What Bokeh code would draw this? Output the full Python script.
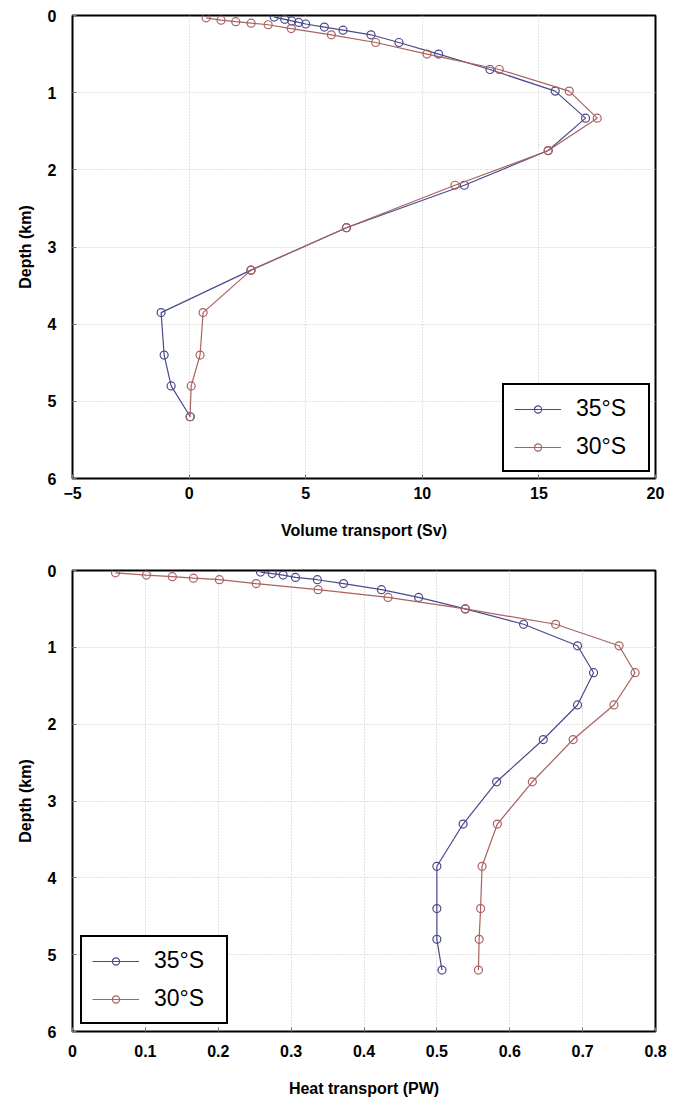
from bokeh.plotting import figure
from bokeh.models import Range1d, FixedTicker, Legend, LegendItem
from bokeh.layouts import column
from bokeh.embed import file_html
from bokeh.resources import INLINE

# ---- data ----
series_labels = ["35°S", "30°S"]

depth_35_vol = [0.02, 0.05, 0.07, 0.09, 0.11, 0.15, 0.19, 0.25, 0.35, 0.5, 0.7, 0.98,
                1.33, 1.75, 2.2, 2.75, 3.3, 3.85, 4.4, 4.8, 5.2]
vol_35 = [3.65, 4.1, 4.4, 4.7, 5.0, 5.8, 6.6, 7.8, 9.0, 10.7, 12.9, 15.7,
          17.0, 15.4, 11.8, 6.75, 2.65, -1.2, -1.07, -0.77, 0.05]

depth_30 = [0.03, 0.06, 0.08, 0.1, 0.12, 0.17, 0.25, 0.35, 0.5, 0.7, 0.98,
            1.33, 1.75, 2.2, 2.75, 3.3, 3.85, 4.4, 4.8, 5.2]
vol_30 = [0.73, 1.37, 2.0, 2.66, 3.39, 4.38, 6.1, 8.0, 10.2, 13.3, 16.3,
          17.5, 15.4, 11.4, 6.74, 2.66, 0.6, 0.47, 0.09, 0.04]

depth_35_heat = [0.02, 0.04, 0.06, 0.09, 0.12, 0.17, 0.25, 0.35, 0.5, 0.7, 0.98,
                 1.33, 1.75, 2.2, 2.75, 3.3, 3.85, 4.4, 4.8, 5.2]
heat_35 = [0.258, 0.274, 0.289, 0.306, 0.336, 0.372, 0.424, 0.475, 0.539, 0.619, 0.693,
           0.715, 0.693, 0.646, 0.582, 0.536, 0.5, 0.5, 0.5, 0.507]
heat_30 = [0.059, 0.1015, 0.137, 0.166, 0.2016, 0.252, 0.337, 0.433, 0.539, 0.663, 0.75,
           0.772, 0.743, 0.687, 0.631, 0.583, 0.562, 0.56, 0.558, 0.557]

vol_xticks = [-5, 0, 5, 10, 15, 20]
heat_xticks = [0, 0.1, 0.2, 0.3, 0.4, 0.5, 0.6, 0.7, 0.8]
depth_ticks = [0, 1, 2, 3, 4, 5, 6]

FONT = "Liberation Sans"
BLUE = "#4a4a8c"
RED = "#a8625f"


def make_fig(xr, xticks, xlabel, xs35, ys35, xs30, ys30, legend_loc,
             frame_h, top, bottom, tick_standoff, label_standoff):
    p = figure(frame_width=583, frame_height=frame_h,
               x_range=Range1d(*xr), y_range=Range1d(6, 0),
               output_backend="svg", toolbar_location=None,
               min_border_left=72, min_border_right=18,
               min_border_top=top, min_border_bottom=bottom)
    p.outline_line_color = "black"
    p.outline_line_width = 2
    p.outline_line_alpha = 1
    p.xaxis.ticker = FixedTicker(ticks=xticks)
    p.yaxis.ticker = FixedTicker(ticks=depth_ticks)
    p.xgrid.ticker = FixedTicker(ticks=xticks)
    p.ygrid.ticker = FixedTicker(ticks=depth_ticks)
    p.grid.grid_line_color = "#c4c4c4"
    p.grid.grid_line_dash = "1 2"
    p.grid.grid_line_width = 1

    for ax in (p.xaxis[0], p.yaxis[0]):
        ax.axis_line_color = None
        ax.major_tick_in = 4
        ax.major_tick_out = 0
        ax.minor_tick_line_color = None
        ax.major_tick_line_color = "#777777"
        ax.major_label_text_font = FONT
        ax.major_label_text_font_style = "bold"
        ax.major_label_text_font_size = "16px"
        ax.major_label_text_color = "black"
        ax.axis_label_text_font = FONT
        ax.axis_label_text_font_style = "bold"
        ax.axis_label_text_font_size = "16px"
        ax.axis_label_text_color = "black"
    p.xaxis.axis_label = xlabel
    p.yaxis.axis_label = "Depth (km)"
    p.xaxis.major_label_standoff = tick_standoff
    p.xaxis.axis_label_standoff = label_standoff
    p.yaxis.major_label_standoff = 16
    p.yaxis.axis_label_standoff = 11

    l1 = p.line(xs35, ys35, line_color=BLUE, line_width=1.2)
    s1 = p.scatter(xs35, ys35, marker="circle", size=8, line_color=BLUE,
                   fill_color=None, line_width=1.2)
    l2 = p.line(xs30, ys30, line_color=RED, line_width=1.2)
    s2 = p.scatter(xs30, ys30, marker="circle", size=8, line_color=RED,
                   fill_color=None, line_width=1.2)

    legend = Legend(items=[LegendItem(label=series_labels[0], renderers=[l1, s1]),
                           LegendItem(label=series_labels[1], renderers=[l2, s2])],
                    location=legend_loc)
    legend.border_line_color = "black"
    legend.border_line_width = 2
    legend.border_line_alpha = 1
    legend.background_fill_color = "white"
    legend.background_fill_alpha = 1
    legend.label_text_font = FONT
    legend.label_text_font_size = "23px"
    legend.label_text_color = "black"
    legend.glyph_width = 47
    legend.glyph_height = 18
    legend.label_height = 26
    legend.label_width = 62
    legend.spacing = 11
    legend.padding = 10
    legend.margin = 0
    legend.label_standoff = 15
    p.add_layout(legend)
    return p


p1 = make_fig((-5, 20), vol_xticks, "Volume transport (Sv)",
              vol_35, depth_35_vol, vol_30, depth_30, (430, 6),
              463, 15, 77, 8, 20)
p2 = make_fig((0, 0.8), heat_xticks, "Heat transport (PW)",
              heat_35, depth_35_heat, heat_30, depth_30, (8, 7),
              461, 15, 72, 13, 20)

layout = column(p1, p2, spacing=0)
open("out.html", "w").write(file_html(layout, INLINE))
